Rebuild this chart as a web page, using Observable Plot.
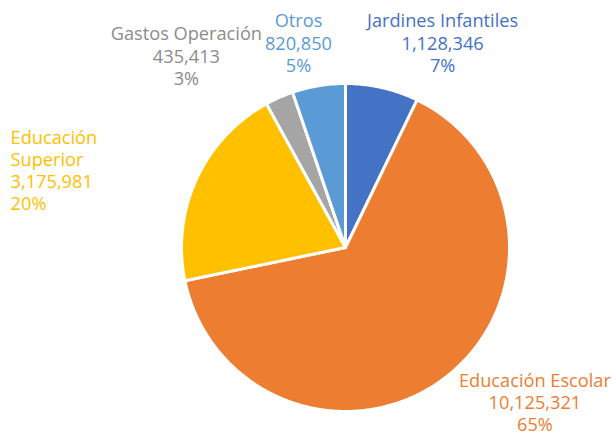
<!DOCTYPE html>
<html>
<head>
<meta charset="utf-8">
<script src="https://cdn.jsdelivr.net/npm/d3@7"></script>
<script src="https://cdn.jsdelivr.net/npm/@observablehq/plot@0.6"></script>
<style>
  html, body { margin: 0; padding: 0; background: #fff; }
  #chart { width: 616px; height: 433px; }
</style>
</head>
<body>
<div id="chart"></div>
<script>
// ---- data ----
const categories = ["Jardines Infantiles", "Educación Escolar", "Educación Superior", "Gastos Operación", "Otros"];
const labelNames = ["Jardines Infantiles", "Educación Escolar", "Educación\nSuperior", "Gastos Operación", "Otros"];
const values = [1128346, 10125321, 3175981, 435413, 820850];
const sliceColors = ["#4472C4", "#ED7D31", "#FFC000", "#A5A5A5", "#5B9BD5"];
const labelColors = ["#4472C4", "#ED7D31", "#FFC000", "#8C8C8C", "#5B9BD5"];

// ---- label placement (layout, not data): radius factor and angle shift in degrees ----
const labelRadius = [1.383, 1.49, 2.096, 1.521, 1.283];
const labelShift  = [12.4, -12.9, -11.7, -15.8, -3.5];
const labelAnchor = ["middle", "middle", "start", "middle", "middle"];

const total = d3.sum(values);
const fmt = d3.format(",");
const arcs = d3.pie().sort(null).value(d => d)(values);

// slice polygons in unit coordinates (angle 0 at 12 o'clock, clockwise)
const slicePts = [];
arcs.forEach((a, i) => {
  const n = Math.max(2, Math.ceil((a.endAngle - a.startAngle) / (Math.PI / 180)));
  slicePts.push({cat: categories[i], x: 0, y: 0});
  for (let j = 0; j <= n; j++) {
    const t = a.startAngle + (a.endAngle - a.startAngle) * j / n;
    slicePts.push({cat: categories[i], x: Math.sin(t), y: Math.cos(t)});
  }
  slicePts.push({cat: categories[i], x: 0, y: 0});
});

const labels = arcs.map((a, i) => {
  const mid = (a.startAngle + a.endAngle) / 2 + labelShift[i] * Math.PI / 180;
  return {
    cat: categories[i],
    x: labelRadius[i] * Math.sin(mid),
    y: labelRadius[i] * Math.cos(mid),
    text: labelNames[i] + "\n" + fmt(values[i]) + "\n" + Math.round(values[i] / total * 100) + "%",
    anchor: labelAnchor[i],
    color: labelColors[i]
  };
});

const textOpts = (anchor) => ({
  x: "x", y: "y", text: "text",
  textAnchor: anchor, lineHeight: 1.22, fontSize: 18.2,
  fontFamily: "'Open Sans', 'Noto Sans', sans-serif"
});

const chart = Plot.plot({
  width: 616,
  height: 433,
  marginLeft: 181,
  marginRight: 107,
  marginTop: 83,
  marginBottom: 22,
  x: {domain: [-1, 1], axis: null},
  y: {domain: [-1, 1], axis: null},
  color: {domain: categories, range: sliceColors},
  style: {background: "#fff", overflow: "visible"},
  marks: [
    Plot.line(slicePts, {x: "x", y: "y", z: "cat", fill: "cat", stroke: "white", strokeWidth: 3, strokeLinejoin: "round"}),
    Plot.text(labels.filter(d => d.anchor === "middle"), {...textOpts("middle"), fill: d => d.color}),
    Plot.text(labels.filter(d => d.anchor === "start"), {...textOpts("start"), fill: d => d.color})
  ]
});
document.getElementById("chart").appendChild(chart);
</script>
</body>
</html>
